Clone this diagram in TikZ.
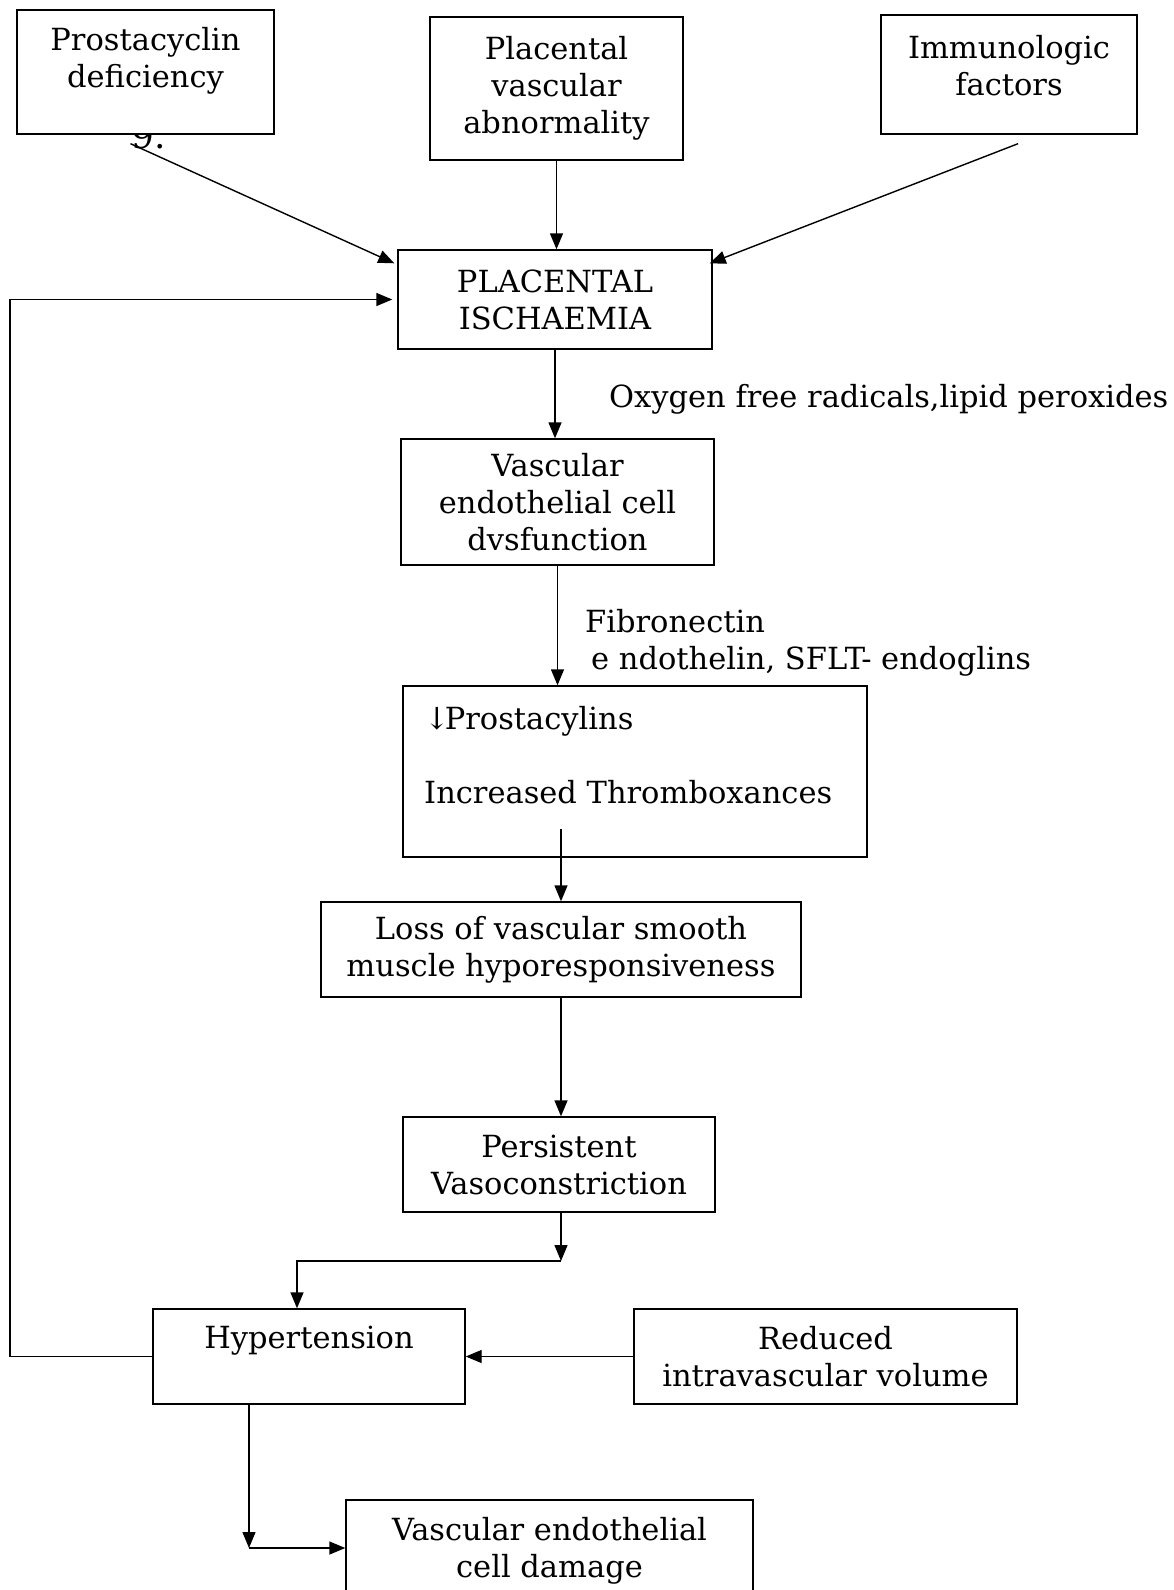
\documentclass[tikz,border=0pt]{standalone}
\usepackage{fontspec}
\setmainfont{DejaVu Serif}
\usetikzlibrary{arrows.meta, positioning, calc}

\begin{document}
\begin{tikzpicture}[
    x=1pt, y=-1pt,
    every node/.style={font=\fontsize{30.5}{37}\selectfont},
    box/.style={rectangle, draw, line width=1.4pt, inner sep=0pt, align=center, fill=white},
    txt/.style={inner sep=0pt, align=center},
    arr/.style={-{Triangle[length=16pt, width=13pt]}, line width=1.4pt}
    ]
    \useasboundingbox (0,0) rectangle (1173,1590);
    \fill[white] (0,0) rectangle (1173,1590);

    % Causes
    \node[txt, anchor=base west, font=\fontsize{36}{40}\selectfont] (stray) at (131,148) {9.};
    \node[box, minimum width=257, minimum height=124] (prosta) at (145.5,72) {};
    \node[txt] (prostaT) at (145.5,61) {Prostacyclin\\deficiency};
    \node[box, minimum width=253, minimum height=143] (plac) at (556.5,88.5) {Placental\\vascular\\abnormality};
    \node[box, minimum width=256, minimum height=119] (immuno) at (1009,74.5) {};
    \node[txt] (immunoT) at (1009,66) {Immunologic\\factors};

    \node[box, minimum width=314, minimum height=99] (isch) at (555,299.5) {PLACENTAL\\ISCHAEMIA};
    \draw[arr] ($(prosta.south)+(-15,9)$) -- ($(isch.north west)+(-3,14)$);
    \draw[arr] (plac.south) -- (plac.south |- isch.north);
    \draw[arr] ($(immuno.south)+(9,9)$) -- ($(isch.north east)+(-3,14)$);

    % Cascade
    \node[box, minimum width=313, minimum height=126] (vec) at (557.5,502) {Vascular\\endothelial cell\\dvsfunction};
    \draw[arr] (isch.south) -- (isch.south |- vec.north);
    \node[txt, anchor=west] (oxy) at (609,399) {Oxygen free radicals,lipid peroxides};

    \node[box, minimum width=464, minimum height=171] (prost) at (635,771.5) {};
    \node[txt, anchor=west, align=left] (prostT) at (424,755) {↓\hspace{-5pt}Prostacylins\\[37pt]Increased Thromboxances};
    \draw[arr] (vec.south) -- (vec.south |- prost.north);
    \node[txt, anchor=west, align=left] (fibro) at (585,642.5) {Fibronectin\\\hspace*{6pt}e ndothelin, SFLT- endoglins};

    \node[box, minimum width=480, minimum height=95] (loss) at (561,949.5) {Loss of vascular smooth\\muscle hyporesponsiveness};
    \coordinate (pin) at (561,829);
    \draw[arr] (pin) -- (loss.north);
    \node[box, minimum width=312, minimum height=95] (persist) at (559,1164.5) {Persistent\\Vasoconstriction};
    \draw[arr] (loss.south) -- (loss.south |- persist.north);

    % Hypertension
    \node[box, minimum width=312, minimum height=95] (hyper) at (309,1356.5) {};
    \node[txt] (hyperT) at (309,1341) {Hypertension};
    \node[box, minimum width=383, minimum height=95] (reduced) at (825.5,1356.5) {Reduced\\intravascular volume};
    \coordinate (elbow) at (561,1261);
    \draw[arr] (persist.south -| elbow) -- (elbow);
    \draw[arr] (elbow) -| ([xshift=-12pt]hyper.north);
    \draw[arr] (reduced.west) -- (hyper.east);

    % Feedback loop
    \coordinate (loopL) at (10,1356.5);
    \draw[arr] (hyper.west) -- (loopL) |- ([xshift=-5pt]isch.west);

    % Damage
    \node[box, minimum width=407, minimum height=110] (damage) at (549.5,1555) {};
    \node[txt] (damageT) at (549.5,1551) {Vascular endothelial\\cell damage};
    \coordinate (corner) at (249,1548);
    \draw[arr] ([xshift=-60pt]hyper.south) -- (corner);
    \draw[arr] (corner) -- (damage.west |- corner);
\end{tikzpicture}
\end{document}
